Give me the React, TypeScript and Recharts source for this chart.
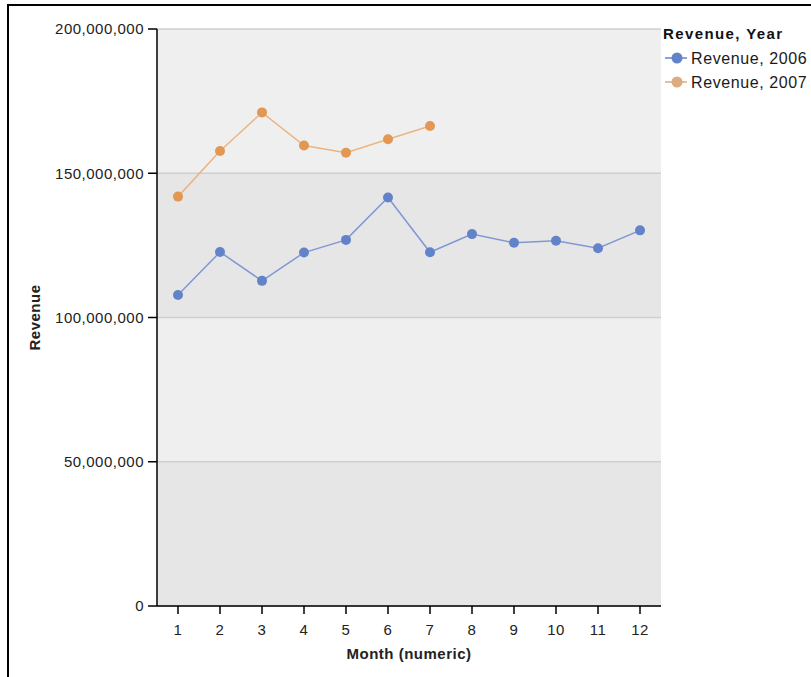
import React from "react";
import { LineChart, Line, XAxis, YAxis, CartesianGrid, Label } from "recharts";

// values
const months = [1, 2, 3, 4, 5, 6, 7, 8, 9, 10, 11, 12];
const revenue2006 = [
  107.8e6, 122.7e6, 112.7e6, 122.5e6, 126.9e6, 141.6e6,
  122.6e6, 128.9e6, 125.9e6, 126.6e6, 124.0e6, 130.2e6,
];
const revenue2007 = [141.9e6, 157.7e6, 171.1e6, 159.6e6, 157.1e6, 161.8e6, 166.4e6];
const yTicks = [0, 50e6, 100e6, 150e6, 200e6];

const series = [
  { key: "r2006", name: "Revenue, 2006", line: "#7f98d4", dot: "#6383c9", legendDot: "#6383c9" },
  { key: "r2007", name: "Revenue, 2007", line: "#ebb482", dot: "#e29752", legendDot: "#dcab80" },
];

const data = months.map((m, i) => ({
  month: m,
  r2006: revenue2006[i],
  r2007: i < revenue2007.length ? revenue2007[i] : null,
}));

const FONT = "'Liberation Sans', Arial, sans-serif";
const fmt = (v: number) => v.toLocaleString("en-US");

function LegendBox() {
  return (
    <svg width={160} height={100} style={{ position: "absolute", left: 655, top: 20 }}>
      <text x={8} y={19} fontFamily={FONT} fontSize={15} fontWeight="bold" fill="#111" letterSpacing={1.4}>
        Revenue, Year
      </text>
      {series.map((s, i) => {
        const cy = 38 + i * 24;
        return (
          <g key={s.key}>
            <line x1={10} x2={32} y1={cy} y2={cy} stroke={s.legendDot} strokeWidth={1.5} />
            <circle cx={22} cy={cy} r={5.5} fill={s.legendDot} />
            <text x={36} y={cy + 5.5} fontFamily={FONT} fontSize={16} fill="#1a1a1a" letterSpacing={0.6}>
              {s.name}
            </text>
          </g>
        );
      })}
    </svg>
  );
}

export default function App() {
  return (
    <div style={{ position: "absolute", left: 0, top: 0, width: 811, height: 677, background: "#fff", overflow: "hidden" }}>
      <div
        style={{
          position: "absolute",
          left: 7,
          top: 4,
          width: 820,
          height: 700,
          borderTop: "2px solid #000",
          borderLeft: "2px solid #000",
        }}
      />
      <LineChart
        width={811}
        height={677}
        data={data}
        margin={{ top: 29, right: 150, left: 27, bottom: 21 }}
        style={{ position: "absolute", left: 0, top: 0 }}
      >
        <CartesianGrid
          vertical={false}
          stroke="#cfcfcf"
          strokeWidth={1.5}
          horizontalFill={["#efefef", "#e6e6e6"]}
          fillOpacity={1}
        />
        <XAxis
          dataKey="month"
          type="category"
          height={50}
          padding={{ left: 21, right: 21 }}
          tickSize={8}
          tickMargin={10}
          interval={0}
          axisLine={{ stroke: "#000", strokeWidth: 1.5 }}
          tickLine={{ stroke: "#000", strokeWidth: 1.5 }}
          tick={{ fill: "#222", fontSize: 15, fontFamily: FONT, letterSpacing: 0.5 }}
        >
          <Label
            content={({ viewBox }: any) => (
              <text
                x={viewBox.x + viewBox.width / 2}
                y={659}
                textAnchor="middle"
                fontFamily={FONT}
                fontSize={15}
                fontWeight="bold"
                letterSpacing={0.5}
                fill="#222"
              >
                Month (numeric)
              </text>
            )}
          />
        </XAxis>
        <YAxis
          width={130}
          domain={[0, 200e6]}
          ticks={yTicks}
          interval={0}
          tickFormatter={fmt}
          tickSize={9}
          tickMargin={4}
          axisLine={{ stroke: "#000", strokeWidth: 1.5 }}
          tickLine={{ stroke: "#000", strokeWidth: 1.5 }}
          tick={{ fill: "#222", fontSize: 15, fontFamily: FONT, letterSpacing: 0.5 }}
        >
          <Label
            content={({ viewBox }: any) => (
              <text
                x={40}
                y={viewBox.y + viewBox.height / 2}
                transform={`rotate(-90 40 ${viewBox.y + viewBox.height / 2})`}
                textAnchor="middle"
                fontFamily={FONT}
                fontSize={15}
                fontWeight="bold"
                letterSpacing={0.5}
                fill="#222"
              >
                Revenue
              </text>
            )}
          />
        </YAxis>
        {series.map((s) => (
          <Line
            key={s.key}
            type="linear"
            dataKey={s.key}
            name={s.name}
            stroke={s.line}
            strokeWidth={1.5}
            dot={{ r: 5, fill: s.dot, stroke: "none" }}
            activeDot={false}
            isAnimationActive={false}
          />
        ))}
      </LineChart>
      <LegendBox />
    </div>
  );
}
